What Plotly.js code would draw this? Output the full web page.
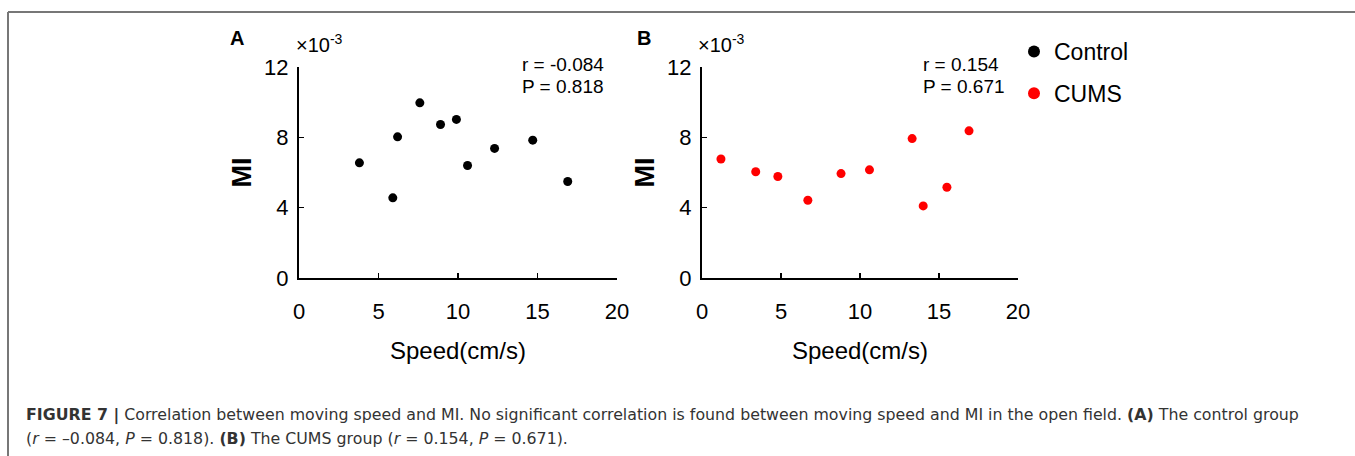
<!DOCTYPE html>
<html>
<head>
<meta charset="utf-8">
<script src="https://cdn.plot.ly/plotly-3.0.1.min.js"></script>
<style>
html,body{margin:0;padding:0;background:#fff;}
#chart{width:1355px;height:456px;}
</style>
</head>
<body>
<div id="chart"></div>
<script>
// Data (MI in units of 10^-3, speed in cm/s)
const controlSpeed = [3.8, 5.9, 6.2, 7.6, 8.9, 9.9, 10.6, 12.3, 14.7, 16.9];
const controlMI    = [6.55, 4.56, 8.03, 9.96, 8.73, 9.02, 6.40, 7.37, 7.84, 5.49];
const cumsSpeed    = [1.2, 3.4, 4.8, 6.7, 8.8, 10.6, 13.3, 14.0, 15.5, 16.9];
const cumsMI       = [6.77, 6.04, 5.77, 4.42, 5.94, 6.15, 7.93, 4.10, 5.16, 8.37];
const xTicks = [0, 5, 10, 15, 20];
const yTicks = [0, 4, 8, 12];
const statsA = ["r = -0.084", "P = 0.818"];
const statsB = ["r = 0.154", "P = 0.671"];
const caption1 = "<b>FIGURE 7 |</b> Correlation between moving speed and MI. No significant correlation is found between moving speed and MI in the open field. <b>(A)</b> The control group";
const caption2 = "(<i>r</i> = \u20130.084, <i>P</i> = 0.818). <b>(B)</b> The CUMS group (<i>r</i> = 0.154, <i>P</i> = 0.671).";

const W = 1355, H = 456;
const px = v => v / W;
const py = v => 1 - v / H;
const FONT = "Liberation Sans, Arial, sans-serif";
const CAPFONT = "DejaVu Sans, Liberation Sans, sans-serif";

const traces = [
  {x: controlSpeed, y: controlMI, type: 'scatter', mode: 'markers', name: 'Control',
   xaxis: 'x', yaxis: 'y', legendgroup: 'c',
   marker: {color: '#000000', size: 9}},
  {x: cumsSpeed, y: cumsMI, type: 'scatter', mode: 'markers', name: 'CUMS',
   xaxis: 'x2', yaxis: 'y2', legendgroup: 'm',
   marker: {color: '#ff0000', size: 9}}
];

function xax(domain, anchor) {
  return {domain: domain, anchor: anchor, range: [0, 20], tickvals: xTicks, ticktext: xTicks.map(String),
    showline: true, linewidth: 2, linecolor: '#000', ticks: 'inside', ticklen: 5, tickwidth: 1.5, tickcolor: '#000',
    showgrid: false, zeroline: false, ticklabelstandoff: 13,
    tickfont: {family: FONT, size: 22, color: '#000'},
    title: {text: 'Speed(cm/s)', font: {family: FONT, size: 24, color: '#000'}, standoff: 19}};
}
function yax(domain, anchor) {
  return {domain: domain, anchor: anchor, range: [0, 12], tickvals: yTicks, ticktext: yTicks.map(String),
    showline: true, linewidth: 2, linecolor: '#000', ticks: 'inside', ticklen: 5, tickwidth: 1.5, tickcolor: '#000',
    showgrid: false, zeroline: false, ticklabelstandoff: 4,
    tickfont: {family: FONT, size: 22, color: '#000'},
    title: {text: '<b>MI</b>', font: {family: FONT, size: 27, color: '#000'}, standoff: 5}};
}

const ann = [];
function addText(text, x, y, size, opts) {
  ann.push(Object.assign({xref: 'paper', yref: 'paper', x: px(x), y: py(y), text: text, showarrow: false,
    font: {family: FONT, size: size, color: '#000'}, xanchor: 'left', yanchor: 'middle'}, opts || {}));
}
addText('<b>A</b>', 237, 38, 20, {xanchor: 'center'});
addText('<b>B</b>', 644, 38, 20, {xanchor: 'center'});
addText('\u00d710<sup>-3</sup>', 294, 44, 20);
addText('\u00d710<sup>-3</sup>', 696, 44, 20);
addText(statsA[0], 520, 64, 19);
addText(statsA[1], 520, 87, 19);
addText(statsB[0], 921, 64, 19);
addText(statsB[1], 921, 87, 19);
addText(caption1, 24, 415, 15.8, {font: {family: CAPFONT, size: 15.8, color: '#333'}});
addText(caption2, 24, 438, 15.8, {font: {family: CAPFONT, size: 15.8, color: '#333'}});

const layout = {
  width: W, height: H,
  margin: {l: 0, r: 0, t: 0, b: 0},
  paper_bgcolor: '#fff', plot_bgcolor: 'rgba(0,0,0,0)',
  showlegend: true,
  legend: {x: px(1014), y: py(30), xanchor: 'left', yanchor: 'top', tracegroupgap: 9,
    font: {family: FONT, size: 23, color: '#000'}, bgcolor: 'rgba(0,0,0,0)', itemsizing: 'constant'},
  xaxis: xax([px(299), px(617)], 'y'),
  yaxis: yax([py(278), py(67)], 'x'),
  xaxis2: xax([px(702), px(1018)], 'y2'),
  yaxis2: yax([py(278), py(67)], 'x2'),
  annotations: ann,
  shapes: [
    {type: 'line', xref: 'paper', yref: 'paper', x0: px(8), x1: 1, y0: py(12), y1: py(12), line: {color: '#777', width: 2}},
    {type: 'line', xref: 'paper', yref: 'paper', x0: px(8), x1: px(8), y0: py(12), y1: 0, line: {color: '#777', width: 2}}
  ]
};

Plotly.newPlot('chart', traces, layout, {displayModeBar: false, staticPlot: true});
</script>
</body>
</html>
